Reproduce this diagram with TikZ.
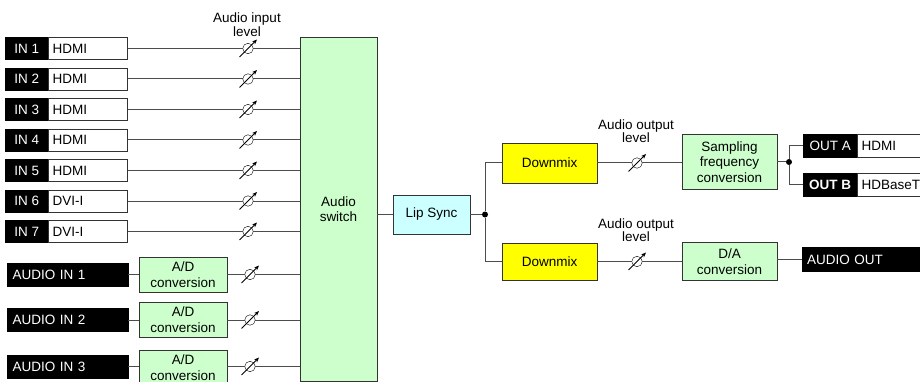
\documentclass[tikz,border=0pt]{standalone}
\usepackage{fontspec}
\setmainfont{Liberation Sans}
\usepackage{xcolor}
\usetikzlibrary{arrows.meta, positioning}

\definecolor{blockgreen}{RGB}{204,255,204}
\definecolor{blockcyan}{RGB}{204,255,255}
\definecolor{blockyellow}{RGB}{255,255,0}

\begin{document}
\begin{tikzpicture}[x=1pt, y=-1pt,
    font=\fontsize{13.5}{15.5}\selectfont,
    port/.style={rectangle, draw=black, fill=black, text=white, minimum width=43pt, minimum height=22pt, inner sep=0pt},
    kind/.style={rectangle, draw=black!80, fill=white, minimum height=22pt, text width=71pt, inner xsep=4pt, inner ysep=0pt, align=left},
    longport/.style={rectangle, draw=black, fill=black, text=white, minimum height=23pt, text width=110pt, inner xsep=5.5pt, inner ysep=0pt, align=left},
    block/.style={rectangle, draw=black!80, fill=blockgreen, minimum width=88pt, minimum height=35pt, inner sep=1pt, align=center},
    level/.style={circle, draw=black, fill=white, minimum size=10.5pt, inner sep=0pt},
    note/.style={font=\fontsize{13.5}{13.5}\selectfont, align=center, inner sep=0pt},
    knob/.style={-{Stealth[length=5pt, width=4pt]}, line width=0.8pt},
    wire/.style={draw=black!70, line width=1pt},
    dot/.style={circle, fill=black, minimum size=6pt, inner sep=0pt}
]
    \useasboundingbox (0,0) rectangle (920,382);
    \clip (0,0) rectangle (920,382);

    % Audio switch
    \node[block, minimum width=77pt, minimum height=344pt] (sw) at (338.5,209) {Audio\\switch};

    % Digital inputs
    \node[port, anchor=west] (in1) at (5,48.5) {IN 1};
    \node[kind, right=0pt of in1] (t1) {HDMI};
    \node[port, anchor=west] (in2) at (5,79) {IN 2};
    \node[kind, right=0pt of in2] (t2) {HDMI};
    \node[port, anchor=west] (in3) at (5,109.5) {IN 3};
    \node[kind, right=0pt of in3] (t3) {HDMI};
    \node[port, anchor=west] (in4) at (5,140) {IN 4};
    \node[kind, right=0pt of in4] (t4) {HDMI};
    \node[port, anchor=west] (in5) at (5,170.5) {IN 5};
    \node[kind, right=0pt of in5] (t5) {HDMI};
    \node[port, anchor=west] (in6) at (5,201) {IN 6};
    \node[kind, right=0pt of in6] (t6) {DVI-I};
    \node[port, anchor=west] (in7) at (5,231.5) {IN 7};
    \node[kind, right=0pt of in7] (t7) {DVI-I};

    % Analog inputs
    \node[longport, anchor=west] (ain1) at (7,274.5) {AUDIO IN 1};
    \node[longport, anchor=west] (ain2) at (7,320) {AUDIO IN 2};
    \node[longport, anchor=west] (ain3) at (7,366.5) {AUDIO IN 3};
    \node[block] (ad1) at (183,274.5) {A/D\\conversion};
    \node[block] (ad2) at (183,319.5) {A/D\\conversion};
    \node[block] (ad3) at (183,367.5) {A/D\\conversion};

    % Input levels
    \node[note] (inlvl) at (247,24.5) {Audio input\\level};
    \node[level] (p1) at (248,48.5) {};
    \node[level] (p2) at (248,79) {};
    \node[level] (p3) at (248,109.5) {};
    \node[level] (p4) at (248,140) {};
    \node[level] (p5) at (248,170.5) {};
    \node[level] (p6) at (248,201) {};
    \node[level] (p7) at (248,231.5) {};
    \node[level] (q1) at (250,274.5) {};
    \node[level] (q2) at (250,320) {};
    \node[level] (q3) at (250,366.5) {};

    % Lip sync and branches
    \node[block, fill=blockcyan, minimum width=77pt, minimum height=39pt] (lip) at (431.5,214.5) {Lip Sync};
    \node[dot] (j1) at (485,214.5) {};
    \node[block, fill=blockyellow, minimum width=95pt, minimum height=40pt] (dm1) at (549.5,163) {Downmix};
    \node[block, fill=blockyellow, minimum width=95pt, minimum height=37pt] (dm2) at (549.5,261.5) {Downmix};

    % Output levels
    \node[note] (outlvl1) at (636,131) {Audio output\\level};
    \node[note] (outlvl2) at (636,230) {Audio output\\level};
    \node[level] (r1) at (637,163) {};
    \node[level] (r2) at (637,261.5) {};

    % Output stages
    \node[block, minimum width=95pt, minimum height=55pt] (sfc) at (729.5,162) {Sampling\\frequency\\conversion};
    \node[block, minimum width=95pt, minimum height=38pt] (da) at (729.5,261.5) {D/A\\conversion};
    \node[dot] (j2) at (789,162) {};
    \node[port, minimum width=54pt, minimum height=23pt, anchor=west] (outa) at (803,145.5) {OUT A};
    \node[kind, minimum height=23pt, right=0pt of outa] (ta) {HDMI};
    \node[port, minimum width=54pt, minimum height=23pt, anchor=west, font=\fontsize{13.5}{15.5}\selectfont\bfseries] (outb) at (803,185) {OUT B};
    \node[kind, minimum height=23pt, right=0pt of outb] (tb) {HDBaseT};
    \node[longport, minimum height=24pt, inner xsep=5pt, anchor=west] (aout) at (802,259.5) {AUDIO OUT};

    % Connections
    \foreach \k in {1,...,7} {
        \draw[wire] (t\k.east) -- (p\k.west);
        \draw[wire] (p\k.east) -- (sw.west |- p\k);
    }
    \foreach \k in {1,2,3} {
        \draw[wire] (ain\k.east) -- (ad\k.west |- ain\k);
        \draw[wire] (ad\k.east |- q\k) -- (q\k.west);
        \draw[wire] (q\k.east) -- (sw.west |- q\k);
    }
    \draw[wire] (sw.east |- lip) -- (lip.west);
    \draw[wire] (lip.east) -- (j1);
    \draw[wire] (j1) |- (dm1.west);
    \draw[wire] (j1) |- (dm2.west);
    \draw[wire] (dm1.east) -- (r1.west);
    \draw[wire] (r1.east) -- (sfc.west |- r1);
    \draw[wire] (dm2.east) -- (r2.west);
    \draw[wire] (r2.east) -- (da.west |- r2);
    \draw[wire] (sfc.east |- j2) -- (j2);
    \draw[wire] (j2) |- (outa.west);
    \draw[wire] (j2) |- (outb.west);
    \draw[wire] (da.east |- aout) -- (aout.west);

    % Level arrows
    \foreach \p in {p1,p2,p3,p4,p5,p6,p7,q1,q2,q3,r1,r2}
        \draw[knob] ([shift={(-8.5,8.5)}]\p.center) -- ([shift={(9,-9)}]\p.center);
\end{tikzpicture}
\end{document}
